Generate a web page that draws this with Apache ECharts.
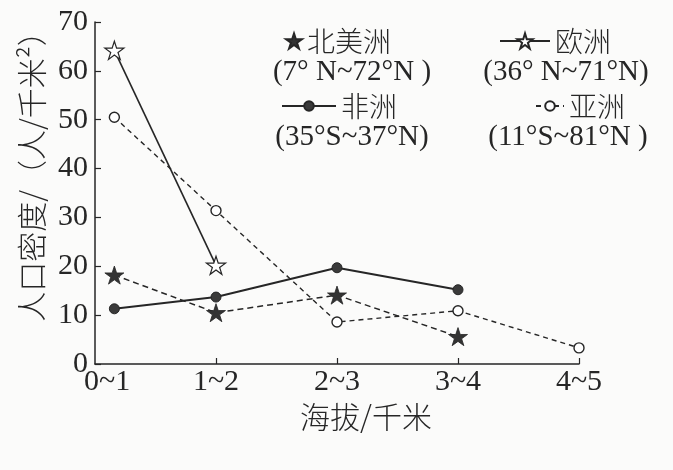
<!DOCTYPE html>
<html>
<head>
<meta charset="utf-8">
<script src="https://cdn.jsdelivr.net/npm/echarts@6/dist/echarts.min.js"></script>
<style>
  html, body { margin: 0; padding: 0; background: #fbfbfa; }
  #main { width: 673px; height: 470px; }
</style>
</head>
<body>
<div id="main"></div>
<script>
// 海拔分段与各洲人口密度
var altitudeBands = ['0~1', '1~2', '2~3', '3~4', '4~5'];
var bandPos = [0.16, 1, 2, 3, 4];
var labelPos = [0.1, 1, 2, 3, 4];
var northAmerica = [18.2, 10.5, 14.1, 5.6];
var europe = [64.2, 20.2];
var africa = [11.3, 13.7, 19.7, 15.2];
var asia = [50.5, 31.4, 8.6, 10.9, 3.3];
var continentNames = ['北美洲', '欧洲', '非洲', '亚洲'];
var latRanges = ['(7° N~72°N )', '(36° N~71°N)', '(35°S~37°N)', '(11°S~81°N )'];

var ink = '#262626';
var serif = '"Liberation Serif", "DejaVu Serif", serif';
var cjk = '"Noto Sans CJK SC", sans-serif';
var starPath = 'path://M50,0L61.2,34.5L97.6,34.5L68.2,55.9L79.4,90.5L50,69.1L20.6,90.5L31.8,55.9L2.4,34.5L38.8,34.5Z';

function toPairs(vals) {
    return vals.map(function (v, i) { return [bandPos[i], v]; });
}

window.onload = function () {
    var myChart = echarts.init(document.getElementById('main'));

    var legendText = { color: ink, fontSize: 28, fontFamily: cjk, fontWeight: 300 };
    var option = {
        backgroundColor: '#fbfbfa',
        animation: false,
        grid: { left: 95, right: 94, top: 22, bottom: 106 },
        legend: [
            { data: [{ name: continentNames[0], icon: starPath }], left: 285, top: 27,
              itemWidth: 16, itemHeight: 16, padding: 0, textStyle: legendText, symbolKeepAspect: true },
            { data: [continentNames[1]], left: 499, top: 27,
              itemWidth: 50, itemHeight: 19, padding: 0, textStyle: legendText, symbolKeepAspect: true },
            { data: [continentNames[2]], left: 281, top: 92,
              itemWidth: 54, itemHeight: 12, padding: 0, textStyle: legendText },
            { data: [continentNames[3]], left: 535, top: 92,
              itemWidth: 28, itemHeight: 12, padding: 0, textStyle: legendText }
        ],
        graphic: [
            { type: 'text', x: 352, y: 72, style: { text: latRanges[0], font: '29px ' + serif, fill: ink, align: 'center', verticalAlign: 'middle' } },
            { type: 'text', x: 566, y: 72, style: { text: latRanges[1], font: '29px ' + serif, fill: ink, align: 'center', verticalAlign: 'middle' } },
            { type: 'text', x: 352, y: 137, style: { text: latRanges[2], font: '29px ' + serif, fill: ink, align: 'center', verticalAlign: 'middle' } },
            { type: 'text', x: 568, y: 137, style: { text: latRanges[3], font: '29px ' + serif, fill: ink, align: 'center', verticalAlign: 'middle' } }
        ],
        xAxis: {
            type: 'value',
            min: 0,
            max: 4,
            interval: 1,
            name: '海拔/千米',
            nameLocation: 'middle',
            nameGap: 31,
            nameTextStyle: { color: ink, fontSize: 30, fontFamily: cjk, fontWeight: 300, padding: [0, 0, 0, 58] },
            axisLine: { lineStyle: { color: ink, width: 1.5 } },
            axisTick: { inside: true, length: 6, lineStyle: { color: ink, width: 1.2 }, customValues: [1, 2, 3, 4] },
            axisLabel: {
                customValues: labelPos,
                margin: 3,
                color: ink,
                fontSize: 30,
                fontFamily: serif,
                formatter: function (v) { return altitudeBands[Math.round(v)]; }
            },
            splitLine: { show: false }
        },
        yAxis: {
            type: 'value',
            min: 0,
            max: 70,
            interval: 10,
            name: '人口密度/（人/千米²）',
            nameLocation: 'middle',
            nameGap: 48,
            nameTextStyle: { color: ink, fontSize: 30, fontFamily: cjk, fontWeight: 300, padding: [0, 0, 0, 48] },
            axisLine: { show: true, lineStyle: { color: ink, width: 1.5 } },
            axisTick: { show: true, inside: true, length: 6, lineStyle: { color: ink, width: 1.2 } },
            axisLabel: { margin: 7, color: ink, fontSize: 30, fontFamily: serif },
            splitLine: { show: false }
        },
        series: [
            {
                name: continentNames[0],
                type: 'line',
                data: toPairs(northAmerica),
                symbol: starPath,
                symbolSize: 19,
                symbolKeepAspect: true,
                itemStyle: { color: '#333', borderColor: ink, borderWidth: 0.8 },
                lineStyle: { color: ink, width: 1.5, type: [6, 4] }
            },
            {
                name: continentNames[1],
                type: 'line',
                data: toPairs(europe),
                symbol: starPath,
                symbolSize: 19,
                symbolKeepAspect: true,
                itemStyle: { color: '#ffffff', borderColor: ink, borderWidth: 1.2 },
                lineStyle: { color: ink, width: 1.6 }
            },
            {
                name: continentNames[2],
                type: 'line',
                data: toPairs(africa),
                symbol: 'circle',
                symbolSize: 10,
                itemStyle: { color: '#3a3a3a', borderColor: ink, borderWidth: 1 },
                lineStyle: { color: ink, width: 2 }
            },
            {
                name: continentNames[3],
                type: 'line',
                data: toPairs(asia),
                symbol: 'circle',
                symbolSize: 10,
                itemStyle: { color: '#ffffff', borderColor: ink, borderWidth: 1.4 },
                lineStyle: { color: ink, width: 1.4, type: [5, 4] }
            }
        ]
    };

    myChart.setOption(option);
};
</script>
</body>
</html>
